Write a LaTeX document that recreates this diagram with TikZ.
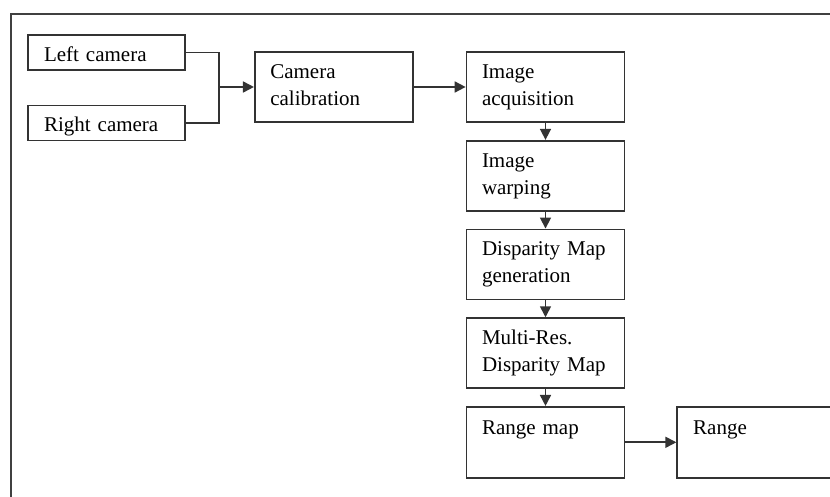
\documentclass[tikz,border=0pt]{standalone}
\usepackage{fontspec}
\setmainfont{Liberation Serif}
\usetikzlibrary{positioning,arrows.meta}

\begin{document}
\begin{tikzpicture}[x=1pt, y=-1pt, font=\fontsize{21}{27}\selectfont,
	box/.style={draw=black!80, line width=1.7pt, rectangle, inner sep=0pt, minimum width=158pt, minimum height=70pt, text width=127pt, align=left, text height=14pt, text depth=31pt},
	cambox/.style={box, minimum width=157pt, minimum height=35pt, text width=125pt, text height=18pt, text depth=0pt},
	topbox/.style={box, minimum height=71pt, text height=28pt, text depth=43pt},
	arr/.style={draw=black!80, line width=1.7pt, -{Triangle[length=11pt,width=11pt]}},
	]
\useasboundingbox (0,0) rectangle (830,497);
\clip (0,0) rectangle (830,497);
\draw[black!75, line width=1.8pt] (835,14) -- (11,14) -- (11,500);

\node[cambox] (leftcam) at (106.5,52.5) {Left camera};
\node[cambox] (rightcam) at (106.5,123) {Right camera};
\node[box] (acq) at (545.5,87) {Image\\acquisition};
\node[box, left=52pt of acq] (calib) {Camera\\calibration};
\node[box, below=17pt of acq] (warp) {Image\\warping};
\node[box, below=17pt of warp] (disp) {Disparity Map\\generation};
\node[box, below=17pt of disp] (multires) {Multi-Res.\\Disparity Map};
\node[topbox, below=17pt of multires] (rmap) {Range map};
\node[topbox, right=51pt of rmap, minimum width=175pt, text width=143pt] (range) {Range};

\coordinate[left=35pt of calib.west] (join);
\draw[black!80, line width=1.7pt] (leftcam.east) -| (join) |- (rightcam.east);
\draw[arr] (join) -- (calib.west);
\draw[arr] (calib) -- (acq);
\foreach \a/\b in {acq/warp, warp/disp, disp/multires, multires/rmap}
	\draw[arr] (\a) -- (\b);
\draw[arr] (rmap) -- (range);
\end{tikzpicture}
\end{document}
